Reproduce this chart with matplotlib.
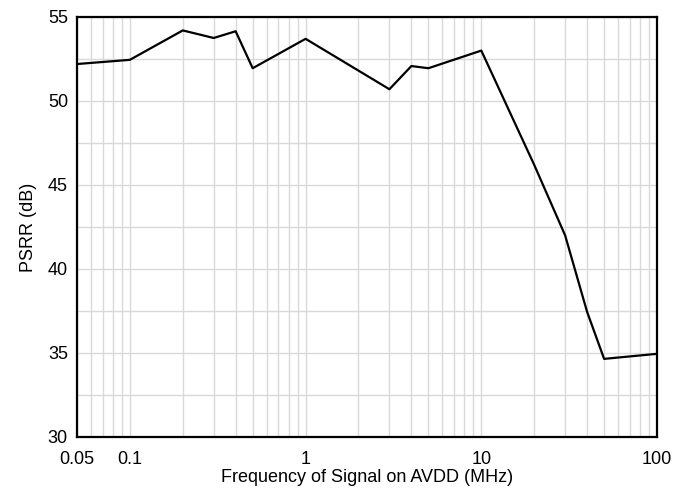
import matplotlib
matplotlib.use("Agg")
import matplotlib.pyplot as plt
from matplotlib.ticker import FixedLocator, NullFormatter, LogLocator

plt.rcParams['font.family'] = ['Liberation Sans', 'DejaVu Sans']

freq_mhz = [0.05, 0.1, 0.2, 0.3, 0.4, 0.5, 1, 3, 4, 5, 10, 20, 30, 40, 50, 100]
psrr_db = [52.2, 52.45, 54.2, 53.75, 54.15, 51.95, 53.7, 50.7, 52.08, 51.95, 53.0, 46.2, 42.0, 37.45, 34.65, 34.95]

x_ticks = [0.05, 0.1, 1, 10, 100]
x_tick_labels = ["0.05", "0.1", "1", "10", "100"]
y_ticks = [30, 35, 40, 45, 50, 55]

fig = plt.figure(figsize=(6.74, 4.91), dpi=100)
ax = fig.add_axes([0.1142, 0.110, 0.8606, 0.8554])

ax.plot(freq_mhz, psrr_db, color='black', lw=1.6, zorder=3)
ax.set_xscale('log')
ax.set_xlim(0.05, 100)
ax.set_ylim(30, 55)

ax.xaxis.set_major_locator(FixedLocator(x_ticks))
ax.set_xticklabels(x_tick_labels)
ax.xaxis.set_minor_locator(LogLocator(base=10, subs=range(2, 10)))
ax.xaxis.set_minor_formatter(NullFormatter())
ax.set_yticks(y_ticks)
ax.yaxis.set_minor_locator(FixedLocator([32.5, 37.5, 42.5, 47.5, 52.5]))

ax.grid(True, which='both', color='#d9d9d9', lw=1.0, zorder=0)
ax.set_axisbelow(True)
ax.tick_params(which='both', length=0, labelsize=13, colors='black')
ax.tick_params(axis='x', pad=10)
ax.tick_params(axis='y', pad=6.5)

for s in ax.spines.values():
    s.set_linewidth(1.6)
    s.set_color('black')

ax.set_xlabel('Frequency of Signal on AVDD (MHz)', fontsize=13, labelpad=1)
ax.set_ylabel('PSRR (dB)', fontsize=13, labelpad=8)

fig.savefig('out.png', dpi=100)
